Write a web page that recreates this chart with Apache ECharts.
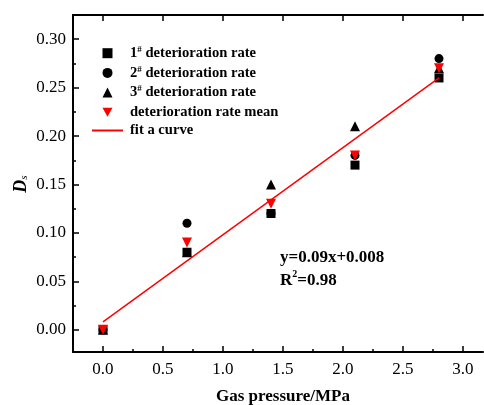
<!DOCTYPE html>
<html>
<head>
<meta charset="utf-8">
<script src="https://cdn.jsdelivr.net/npm/echarts@6/dist/echarts.min.js"></script>
<style>html,body{margin:0;padding:0;background:#fff}#c{width:484px;height:405px}</style>
</head>
<body>
<div id="c"></div>
<script>
const pressure = [0, 0.7, 1.4, 2.1, 2.8];
const rate1 = [0, 0.08, 0.12, 0.17, 0.26];
const rate2 = [0, 0.11, 0.12, 0.18, 0.28];
const rate3 = [0, 0.08, 0.15, 0.21, 0.27];
const rateMean = [0, 0.09, 0.13, 0.18, 0.27];
const fitX = [0, 2.8];
const fitSlope = 0.09, fitIntercept = 0.008;
const fitY = fitX.map(x => fitSlope * x + fitIntercept);
const xMajor = [0, 0.5, 1.0, 1.5, 2.0, 2.5, 3.0];
const xMinor = [0.25, 0.75, 1.25, 1.75, 2.25, 2.75];
const yMajor = [0, 0.05, 0.10, 0.15, 0.20, 0.25, 0.30];
const yMinor = [0.025, 0.075, 0.125, 0.175, 0.225, 0.275];

const serif = '"Liberation Serif", "Times New Roman", serif';
const pair = (xs, ys) => xs.map((x, i) => [x, ys[i]]);
const XMIN = -0.25, XMAX = 3.1667, YMIN = -0.023, YMAX = 0.325;
const downTri = 'path://M0,0 L10,0 L5,9 Z';

const chart = echarts.init(document.getElementById('c'), null, {renderer: 'canvas'});
const axisLine = {show: true, onZero: false, lineStyle: {color: '#000', width: 2}};
const noLine = {show: false, onZero: false};
const tickStyle = {color: '#000', width: 1.5};
chart.setOption({
  animation: false,
  backgroundColor: '#fff',
  grid: {left: 73, top: 15, width: 410, height: 337, containLabel: false},
  xAxis: [{
    type: 'value', min: XMIN, max: XMAX,
    axisLine: axisLine,
    axisTick: {show: true, inside: true, length: 6, lineStyle: tickStyle, customValues: xMajor},
    splitLine: {show: false},
    axisLabel: {color: '#000', fontFamily: serif, fontSize: 17, margin: 9, customValues: xMajor,
      formatter: v => v.toFixed(1)}
  }, {
    type: 'value', position: 'bottom', min: XMIN, max: XMAX,
    axisLine: noLine,
    axisTick: {show: true, inside: true, length: 3, lineStyle: tickStyle, customValues: xMinor},
    axisLabel: {show: false}, splitLine: {show: false}
  }, {
    type: 'value', position: 'top', min: XMIN, max: XMAX,
    axisLine: axisLine,
    axisTick: {show: true, inside: true, length: 6, lineStyle: tickStyle, customValues: xMajor},
    axisLabel: {show: false}, splitLine: {show: false}
  }],
  yAxis: [{
    type: 'value', min: YMIN, max: YMAX,
    axisLine: axisLine,
    axisTick: {show: true, inside: true, length: 6, lineStyle: tickStyle, customValues: yMajor},
    splitLine: {show: false},
    axisLabel: {color: '#000', fontFamily: serif, fontSize: 17, margin: 7, customValues: yMajor,
      formatter: v => v.toFixed(2)}
  }, {
    type: 'value', position: 'left', min: YMIN, max: YMAX,
    axisLine: noLine,
    axisTick: {show: true, inside: true, length: 3, lineStyle: tickStyle, customValues: yMinor},
    axisLabel: {show: false}, splitLine: {show: false}
  }],
  legend: [{
    orient: 'vertical', left: 97.5, top: 40.2,
    itemWidth: 10, itemHeight: 10, itemGap: 3.7,
    textStyle: {color: '#000', fontFamily: serif, fontSize: 14.6, fontWeight: 'bold', lineHeight: 16,
      rich: {
        b: {fontFamily: serif, fontSize: 14.6, fontWeight: 'bold', color: '#000'},
        p: {fontFamily: serif, fontSize: 14.6, fontWeight: 'bold', color: '#000', padding: [0, 0, 0, 12.5]},
        sup: {fontFamily: serif, fontSize: 9, fontWeight: 'bold', color: '#000', verticalAlign: 'top', padding: [0, 0, 7, 0]}
      }},
    formatter: name => {
      const m = name.match(/^(\d)# (.*)$/);
      if (m) return '{p|' + m[1] + '}{sup|#}{b| ' + m[2] + '}';
      return '{p|' + name + '}';
    },
    data: [
      {name: '1# deterioration rate'},
      {name: '2# deterioration rate'},
      {name: '3# deterioration rate'},
      {name: 'deterioration rate mean'}
    ]
  }, {
    orient: 'vertical', left: 87, top: 117.5,
    itemWidth: 31, itemHeight: 2,
    textStyle: {color: '#000', fontFamily: serif, fontSize: 14.6, fontWeight: 'bold', lineHeight: 16,
      rich: {p: {fontFamily: serif, fontSize: 14.6, fontWeight: 'bold', color: '#000', padding: [0, 0, 0, 2]}}},
    formatter: name => '{p|' + name + '}',
    data: [{name: 'fit a curve', icon: 'rect', itemStyle: {color: '#ff0000'}}]
  }],
  series: [
    {name: '1# deterioration rate', type: 'scatter', symbol: 'rect', symbolSize: 9,
      itemStyle: {color: '#000', opacity: 1}, data: pair(pressure, rate1)},
    {name: '2# deterioration rate', type: 'scatter', symbol: 'circle', symbolSize: 9,
      itemStyle: {color: '#000', opacity: 1}, data: pair(pressure, rate2)},
    {name: '3# deterioration rate', type: 'scatter', symbol: 'triangle', symbolSize: 10,
      itemStyle: {color: '#000', opacity: 1}, data: pair(pressure, rate3)},
    {name: 'deterioration rate mean', type: 'scatter', symbol: downTri, symbolSize: 10,
      itemStyle: {color: '#ff0000', opacity: 1}, data: pair(pressure, rateMean)},
    {name: 'fit a curve', type: 'line', symbol: 'none', showSymbol: false,
      lineStyle: {color: '#ff0000', width: 1.5},
      itemStyle: {color: '#ff0000'}, data: pair(fitX, fitY), z: 5}
  ],
  graphic: [
    {type: 'text', left: 280, top: 249, style: {
      text: '{a|y=0.09x+0.008}\n{a|R}{s|2}{a|=0.98}',
      rich: {
        a: {fontFamily: serif, fontSize: 17, fontWeight: 'bold', fill: '#000', lineHeight: 23},
        s: {fontFamily: serif, fontSize: 10, fontWeight: 'bold', fill: '#000', verticalAlign: 'top', padding: [0,0,8,0]}
      }}},
    {type: 'text', x: 283, y: 397, style: {
      text: 'Gas pressure/MPa', align: 'center', verticalAlign: 'middle',
      fontFamily: serif, fontSize: 17, fontWeight: 'bold', fill: '#000'}},
    {type: 'text', x: 21, y: 184, rotation: Math.PI / 2, style: {
      text: '{d|D}{s|s}', align: 'center', verticalAlign: 'middle',
      rich: {
        d: {fontFamily: serif, fontSize: 18, fontWeight: 'bold', fontStyle: 'italic', fill: '#000'},
        s: {fontFamily: serif, fontSize: 11, fontStyle: 'italic', fill: '#000', verticalAlign: 'bottom', padding: [6,0,0,0]}
      }}}
  ]
});
</script>
</body>
</html>
